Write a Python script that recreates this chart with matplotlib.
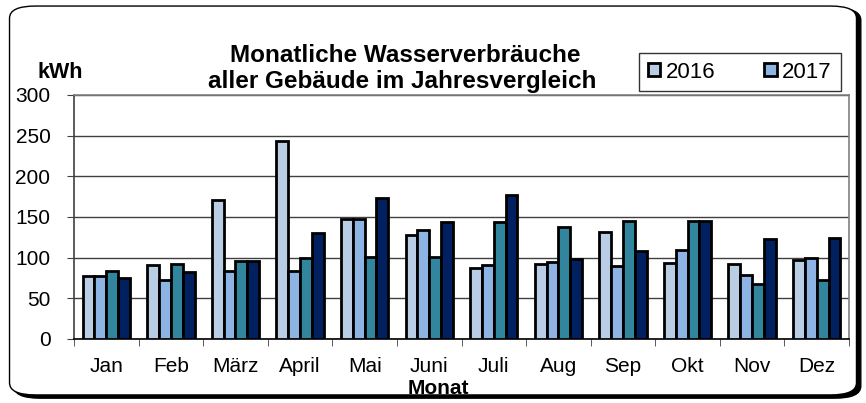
import numpy as np
import matplotlib.pyplot as plt
from matplotlib.patches import FancyBboxPatch, Patch

plt.rcParams['font.family'] = ['Liberation Sans', 'DejaVu Sans']

# Daten
monate = ['Jan', 'Feb', 'März', 'April', 'Mai', 'Juni', 'Juli', 'Aug', 'Sep', 'Okt', 'Nov', 'Dez']
serie_a = [77, 91, 171, 243, 147, 128, 87, 92, 131, 93, 92, 97]     # 2016
serie_b = [77, 73, 84, 84, 148, 134, 91, 95, 90, 110, 79, 99]       # 2017
serie_c = [84, 92, 96, 100, 101, 101, 144, 138, 145, 145, 68, 72]
serie_d = [75, 82, 96, 130, 173, 144, 177, 98, 108, 145, 123, 124]
farben = ['#B9CDE5', '#8EB4E3', '#31859C', '#002060']

fig = plt.figure(figsize=(8.66, 4.03), dpi=100)

# abgerundeter Rahmen mit Schatten
schatten = FancyBboxPatch((0.016, 0.012), 0.978, 0.968, boxstyle='round,pad=0,rounding_size=0.03',
                          transform=fig.transFigure, facecolor='black', edgecolor='black', zorder=-2)
rahmen = FancyBboxPatch((0.011, 0.02), 0.978, 0.965, boxstyle='round,pad=0,rounding_size=0.03',
                        transform=fig.transFigure, facecolor='white', edgecolor='black', lw=1.0, zorder=-1)
fig.patches.extend([schatten, rahmen])

ax = fig.add_axes([74 / 866, 1 - 339 / 403, (849 - 74) / 866, (339 - 95) / 403])

x = np.arange(len(monate))
w = 0.183
for i, (werte, farbe) in enumerate(zip([serie_a, serie_b, serie_c, serie_d], farben)):
    ax.bar(x + (i - 1.5) * w, werte, w, color=farbe, edgecolor='black', linewidth=2.0, zorder=3)

ax.set_xlim(-0.5, len(monate) - 0.5)
ax.set_ylim(0, 300)
ax.set_yticks(range(0, 301, 50))
ax.set_xticks(x)
ax.set_xticklabels(monate, fontsize=15)
ax.set_xticks(np.arange(-0.5, len(monate), 1), minor=True)
ax.tick_params(axis='x', which='major', length=0, pad=13)
ax.tick_params(axis='x', which='minor', length=5, direction='out', color='#404040')
ax.tick_params(axis='y', labelsize=15, length=5, direction='out', color='#404040', pad=12)
ax.yaxis.grid(True, color='#404040', linewidth=1.0, zorder=0)
ax.set_axisbelow(True)
for s in ['top', 'right']:
    ax.spines[s].set_color('#808080')
    ax.spines[s].set_linewidth(1.2)
ax.spines['left'].set_color('#404040')
ax.spines['left'].set_linewidth(1.2)
ax.spines['bottom'].set_color('black')
ax.spines['bottom'].set_linewidth(1.2)

fig.text(438 / 866, 1 - 388 / 403, 'Monat', fontsize=15, fontweight='bold', ha='center', va='center')
fig.text(60 / 866, 1 - 73 / 403, 'kWh', fontsize=15.5, fontweight='bold', ha='center', va='center')

fig.text(405 / 866, 1 - 62 / 403, 'Monatliche Wasserverbräuche', fontsize=17.5, fontweight='bold',
         ha='center', va='baseline')
fig.text(402 / 866, 1 - 88 / 403, 'aller Gebäude im Jahresvergleich', fontsize=17.5, fontweight='bold',
         ha='center', va='baseline')

handles = [Patch(facecolor=farben[0], edgecolor='black', linewidth=2.0),
           Patch(facecolor=farben[1], edgecolor='black', linewidth=2.0)]
leg = fig.legend(handles, ['2016', '2017'], loc='center', bbox_to_anchor=(740 / 866, 1 - 72 / 403),
                 ncol=2, fontsize=16, frameon=True, fancybox=False, handlelength=0.55, handleheight=0.55,
                 handletextpad=0.25, columnspacing=2.2, borderpad=0.4)
leg.get_frame().set_edgecolor('black')
leg.get_frame().set_linewidth(1.0)

fig.savefig('out.png', dpi=100)
